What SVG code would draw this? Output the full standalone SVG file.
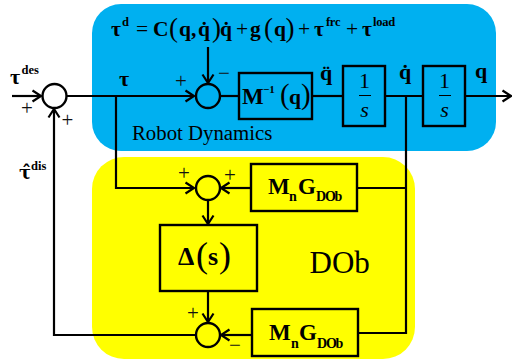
<svg xmlns="http://www.w3.org/2000/svg" width="512" height="364" viewBox="0 0 512 364">
<defs>
<style>
text{font-family:"Liberation Serif","Times New Roman",serif;fill:#000}
.b{font-weight:bold}
.box{stroke:#000;stroke-width:2.4}
.sum{stroke:#000;stroke-width:2.4}
.w{fill:none;stroke:#000;stroke-width:2.200}
.sg{font-size:21px;fill:#111}
.f{font-size:22px;font-style:italic}
.eq{font-size:21.500px}
.sup{font-size:12.500px;font-weight:bold}
</style>
<marker id="a" markerUnits="userSpaceOnUse" markerWidth="12" markerHeight="14" refX="10" refY="7" orient="auto"><path d="M1.500 1.500L10 7L1.500 12.500" fill="none" stroke="#000" stroke-width="2.200"/></marker>
</defs>
<rect id="robot-panel" x="92" y="4" width="404" height="147" rx="29" fill="#00b0f0"/>
<rect id="dob-panel" x="92" y="157" width="323" height="202" rx="32" fill="#ffff00"/>
<g id="connectors">
<path class="w" d="M12 96H41" marker-end="url(#a)"/>
<path class="w" d="M67 96H194" marker-end="url(#a)"/>
<path class="w" d="M208 47V83" marker-end="url(#a)"/>
<path class="w" d="M221 96H239"/>
<path class="w" d="M313 96H343"/>
<path class="w" d="M386 96H423"/>
<path class="w" d="M466 96H511" marker-end="url(#a)"/>
<path class="w" d="M116 96V188H194" marker-end="url(#a)"/>
<path class="w" d="M406 97V333H359"/>
<path class="w" d="M358 188H406"/>
<path class="w" d="M250 188H221" marker-end="url(#a)"/>
<path class="w" d="M208 200V224" marker-end="url(#a)"/>
<path class="w" d="M208 292V322" marker-end="url(#a)"/>
<path class="w" d="M251 335H221" marker-end="url(#a)"/>
<path class="w" d="M195 335H54V109" marker-end="url(#a)"/>
</g>
<g id="sum1"><circle class="sum" cx="54.500" cy="96" r="12" fill="#fff"/></g>
<g id="sum2"><circle class="sum" cx="208" cy="96" r="12" fill="#00b0f0"/></g>
<g id="sum3"><circle class="sum" cx="208" cy="188" r="12" fill="#ffff00"/></g>
<g id="sum4"><circle class="sum" cx="208" cy="335" r="12" fill="#ffff00"/></g>
<g id="minv"><rect class="box" x="239" y="73" width="73" height="46" fill="#00b0f0"/><text class="b" x="242" y="104" font-size="23">M</text><text x="263" y="93" font-size="11" class="b">−1</text><text x="280" y="104" font-size="29">(</text><text class="b" x="289" y="104" font-size="21.500">q</text><text x="301" y="104" font-size="29">)</text></g>
<g id="int1"><rect class="box" x="343" y="66" width="42" height="60" fill="#00b0f0"/><text x="364.500" y="88" font-size="22" text-anchor="middle">1</text><path d="M359 95.500H371" stroke="#000" stroke-width="1"/><text class="f" x="364.500" y="117" text-anchor="middle">s</text></g>
<g id="int2"><rect class="box" x="423" y="66" width="42" height="60" fill="#00b0f0"/><text x="444.500" y="88" font-size="22" text-anchor="middle">1</text><path d="M439 95.500H451" stroke="#000" stroke-width="1"/><text class="f" x="444.500" y="117" text-anchor="middle">s</text></g>
<g id="gain1"><rect class="box" x="251" y="164" width="106" height="47" fill="#ffff00"/><text class="b" x="268" y="194" font-size="23">M</text><text class="b" x="289" y="201" font-size="14">n</text><text class="b" x="298" y="194" font-size="23">G</text><text class="b" x="316" y="201" font-size="14" letter-spacing="-1.200">DOb</text></g>
<g id="delta"><rect class="box" x="160" y="225" width="97" height="66" fill="#ffff00"/><text class="b" x="178" y="265" font-size="26">Δ</text><text x="196" y="267" font-size="36">(</text><text class="b" x="208" y="265" font-size="26">s</text><text x="219" y="267" font-size="36">)</text></g>
<g id="gain2"><rect class="box" x="252" y="309" width="106" height="47" fill="#ffff00"/><text class="b" x="269" y="340" font-size="23">M</text><text class="b" x="291" y="348" font-size="14">n</text><text class="b" x="299" y="340" font-size="23">G</text><text class="b" x="317" y="348" font-size="14" letter-spacing="-1.200">DOb</text></g>
<g id="labels">
<text class="b" x="10" y="84" font-size="22">τ</text><text class="sup" x="21.500" y="74">des</text>
<text class="sg" x="27" y="115" text-anchor="middle">+</text>
<text class="sg" x="67.500" y="127" text-anchor="middle">+</text>
<text x="19" y="179" font-size="18" font-weight="bold" style="font-family:'DejaVu Serif',serif">τ̂</text><text class="sup" x="31" y="170">dis</text>
<text class="b" x="124" y="86" font-size="22" text-anchor="middle">τ</text>
<text class="sg" x="181" y="88" text-anchor="middle">+</text>
<text class="sg" x="224" y="80" text-anchor="middle">−</text>
<text x="132" y="140" font-size="20.800">Robot Dynamics</text>
<text class="b eq" x="111" y="36">τ</text><text class="sup" x="122" y="26">d</text>
<text class="eq" x="136" y="36">=</text><text class="b eq" x="153" y="36">C</text><text x="169" y="37" font-size="27">(</text><text class="b eq" x="179" y="36">q,</text><text class="b eq" x="198" y="36">q̇</text><text x="212" y="37" font-size="27">)</text><text class="b eq" x="220" y="36">q̇</text>
<text class="eq" x="236" y="36">+</text><text class="b eq" x="250" y="36">g</text><text x="264" y="37" font-size="27">(</text><text class="b eq" x="274" y="36">q</text><text x="285.500" y="37" font-size="27">)</text><text class="eq" x="298" y="36">+</text>
<text class="b eq" x="314" y="36">τ</text><text class="sup" x="326" y="26" letter-spacing="-.3">frc</text><text class="eq" x="346" y="36">+</text><text class="b eq" x="362" y="36">τ</text><text class="sup" x="373" y="26" letter-spacing="-.2">load</text>
<text class="b" x="320" y="80" font-size="22">q̈</text>
<text class="b" x="399" y="79" font-size="22">q̇</text>
<text class="b" x="475" y="78" font-size="22">q</text>
<text class="sg" x="184" y="180" text-anchor="middle">+</text>
<text class="sg" x="230" y="182" text-anchor="middle">+</text>
<text class="sg" x="193" y="320" text-anchor="middle">+</text>
<text class="sg" x="235" y="352" text-anchor="middle">−</text>
<text x="309.500" y="273" font-size="31">DOb</text>
</g>
</svg>
